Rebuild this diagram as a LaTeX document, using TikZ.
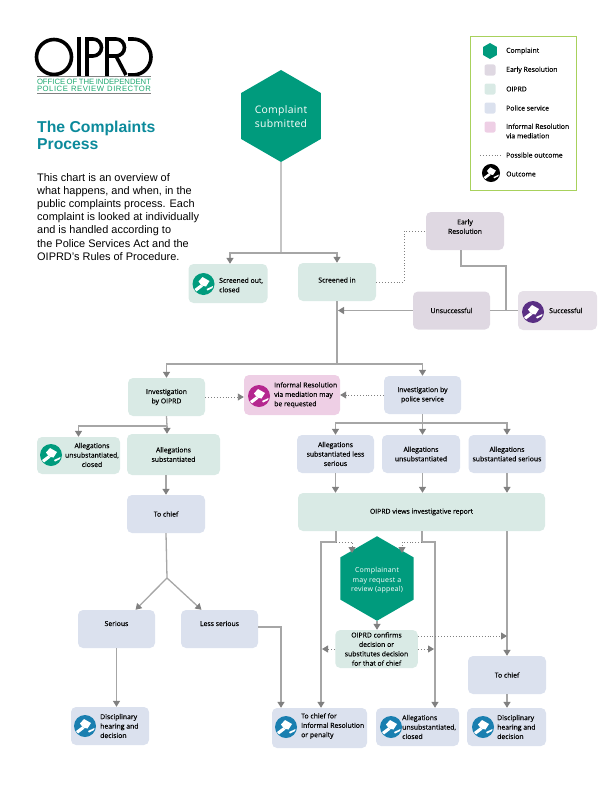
\documentclass[tikz,border=0pt]{standalone}
\usepackage{fontspec}
\setmainfont{Liberation Sans}
\newfontfamily\boxfont[FakeBold=0.25]{Open Sans}
\newfontfamily\hexfont[LetterSpace=3]{Open Sans}
\newfontfamily\logofont[LetterSpace=7]{Liberation Sans}
\usetikzlibrary{arrows.meta,shapes.geometric}
\definecolor{hexgreen}{HTML}{009B7D}
\definecolor{logogreen}{HTML}{1FA971}
\definecolor{titleteal}{HTML}{0B8A9B}
\definecolor{oiprdfill}{HTML}{D9EAE5}
\definecolor{policefill}{HTML}{DBE1EE}
\definecolor{earlyfill}{HTML}{DFD8E2}
\definecolor{succfill}{HTML}{E6E0E8}
\definecolor{medfill}{HTML}{EECFE5}
\definecolor{legendgreen}{HTML}{A8D15C}
\definecolor{flowgray}{HTML}{A6A6A6}
\definecolor{tipgray}{HTML}{808080}
\definecolor{medicon}{HTML}{B5278F}
\definecolor{succicon}{HTML}{5A2F84}
\definecolor{policon}{HTML}{1A7FB0}
\begin{document}
\begin{tikzpicture}[
            x=1pt, y=-1pt,
            >={Triangle[width=7pt,length=6pt,color=tipgray]},
            every node/.style={align=center,font=\boxfont\fontsize{6.85}{9.4}\selectfont},
            rect box/.style={rectangle, rounded corners=5pt, inner sep=1pt, minimum width=77pt, minimum height=38pt},
            oiprd box/.style={rect box, fill=oiprdfill},
            police box/.style={rect box, fill=policefill},
            early box/.style={rect box, fill=earlyfill},
            med box/.style={rect box, fill=medfill},
            high text/.style={text height=6pt, text depth=12pt},
            icon text/.style={anchor=west, align=left, inner sep=0pt},
            hex box/.style={regular polygon, regular polygon sides=6, shape border rotate=30, fill=hexgreen, inner sep=0pt, outer sep=0pt, text=white},
            flow/.style={draw=flowgray, line width=1.3pt},
            possible/.style={draw=tipgray, line width=.9pt, dotted},
            logo stroke/.style={draw=black, line width=3.6pt},
            pics/gavel/.style={code={
                \fill[#1] (0,0) circle[radius=11];
                \fill[white] (-5,-2.5) -- (-1,-7) -- (6,-3) -- (2.5,2.5) -- (-2,1.5) -- cycle;
                \fill[white] (-3,0.5) -- (-0.5,2.5) -- (-7,7.5) -- (-9,5) -- cycle;
                \fill[white] (3,5) -- (9.5,2) -- (9,4) -- (4,6.5) -- cycle;
            }}
    ]
        \useasboundingbox (0,0) rectangle (612,792);

        % Logo
        \draw[logo stroke] (54,57) circle[radius=17.5];
        \draw[logo stroke] (79,37) -- (79,76);
        \draw[logo stroke] (87,76) -- (87,39) -- (93,39) arc[start angle=90,end angle=-90,radius=8.5pt] -- (87,56);
        \draw[logo stroke] (107,76) -- (107,39) -- (116,39) arc[start angle=90,end angle=-90,radius=8.5pt] -- (107,56);
        \draw[logo stroke] (116,56) -- (126,75);
        \draw[logo stroke] (128,39) -- (133,39) arc[start angle=90,end angle=-90,radius=18pt] -- (128,75);
        \draw[draw=tipgray, line width=.7pt] (37,76.5) -- (151,76.5);
        \draw[draw=tipgray, line width=.7pt] (37,93.5) -- (151,93.5);
        \node[font=\fontsize{7.7}{8}\selectfont, text=logogreen, inner sep=0pt] (logo_top) at (94,81.5) {\makebox[114pt][s]{OFFICE OF THE INDEPENDENT}};
        \node[font=\logofont\fontsize{7.7}{8}\selectfont, text=logogreen, inner sep=0pt] (logo_bot) at (94,89) {\makebox[114pt][s]{POLICE REVIEW DIRECTOR}};

        % Title and intro
        \node[anchor=north west, align=left, inner sep=0pt, text=titleteal, font=\bfseries\fontsize{15.75}{17}\selectfont] (title) at (37,121) {The Complaints\\Process};
        \node[anchor=north west, align=left, inner sep=0pt, font=\fontsize{10.95}{13.2}\selectfont] (intro) at (37,173) {This chart is an overview of\\what happens, and when, in the\\public complaints process. Each\\complaint is looked at individually\\and is handled according to\\the Police Services Act and the\\OIPRD's Rules of Procedure.};

        % Legend
        \node[draw=legendgreen, line width=1pt, minimum width=106pt, minimum height=153pt, inner sep=0pt] (legend) at (523.5,113.5) {};
        \node[hex box, minimum size=16pt] (leg_hex) at (490,51) {};
        \node[early box, minimum width=11pt, minimum height=11pt, rounded corners=2pt] (leg_early) at (490,70) {};
        \node[oiprd box, minimum width=11pt, minimum height=11pt, rounded corners=2pt] (leg_oiprd) at (490,89) {};
        \node[police box, minimum width=11pt, minimum height=11pt, rounded corners=2pt] (leg_police) at (490,108) {};
        \node[med box, minimum width=11pt, minimum height=11pt, rounded corners=2pt] (leg_med) at (490,127) {};
        \coordinate (leg_dot1) at (480,155);
        \coordinate (leg_dot2) at (502,155);
        \draw[possible] (leg_dot1) -- (leg_dot2);
        \pic[scale=.82] at (491,173) {gavel=black};
        \node[icon text] (leg_t1) at (506,51) {Complaint};
        \node[icon text] (leg_t2) at (506,70) {Early Resolution};
        \node[icon text] (leg_t3) at (506,89) {OIPRD};
        \node[icon text] (leg_t4) at (506,108) {Police service};
        \node[icon text] (leg_t5) at (506,131) {Informal Resolution\\via mediation};
        \node[icon text] (leg_t6) at (506,155) {Possible outcome};
        \node[icon text] (leg_t7) at (506,174) {Outcome};

        % Complaint and screening
        \node[hex box, minimum size=92pt, font=\hexfont\fontsize{10.4}{14}\selectfont] (hex_sub) at (281,116) {\rule{0pt}{10pt}Complaint\\submitted};
        \node[oiprd box, minimum width=79pt, minimum height=39pt] (box_out) at (228,283.5) {};
        \pic at (203.5,284) {gavel=hexgreen};
        \node[icon text] (txt_out) at (219,285) {Screened out,\\closed};
        \node[oiprd box, minimum width=78pt, text height=6pt, text depth=5pt] (box_in) at (337,282) {Screened in};

        % Early Resolution
        \node[early box, minimum width=78pt] (box_early) at (465,231) {Early\\Resolution\rule[-9pt]{0pt}{1pt}};
        \node[early box] (box_unsucc) at (451.5,310.5) {Unsuccessful};
        \node[rect box, fill=succfill, minimum width=79pt, minimum height=39pt] (box_succ) at (557.5,310.5) {};
        \pic at (533,312) {gavel=succicon};
        \node[icon text] (txt_succ) at (549,310.5) {Successful};

        % Investigations
        \node[oiprd box] (box_invo) at (166.5,397) {Investigation\\by OIPRD};
        \node[med box, minimum width=96pt, minimum height=40pt] (box_med) at (292,395) {};
        \pic at (259,396) {gavel=medicon};
        \node[icon text] (txt_med) at (274,395) {Informal Resolution\\via mediation may\\be requested};
        \node[police box] (box_invp) at (422.5,395) {Investigation by\\police service};

        % OIPRD side
        \node[oiprd box, minimum width=83pt, minimum height=37pt] (box_unsubl) at (78.5,455.5) {};
        \pic at (51,455) {gavel=hexgreen};
        \node[inner sep=0pt] (txt_unsubl) at (92,455) {Allegations\\unsubstantiated,\\closed};
        \node[oiprd box, minimum width=93pt, minimum height=41pt] (box_subl) at (173.5,454.5) {Allegations\\substantiated};
        \node[police box, minimum width=78pt] (box_chiefl) at (166,514) {To chief};
        \node[police box, high text] (box_serious) at (116.5,629) {Serious};
        \node[police box, high text] (box_lesser) at (219.5,629) {Less serious};
        \node[police box, minimum width=78pt] (box_discl) at (110,726) {};
        \pic at (85,726) {gavel=policon};
        \node[icon text] (txt_discl) at (100,726) {Disciplinary\\hearing and\\decision};

        % Police side
        \node[police box] (box_less) at (335.5,454) {Allegations\\substantiated less\\serious};
        \node[police box, minimum width=78pt] (box_unsub) at (421,454) {Allegations\\unsubstantiated};
        \node[police box] (box_ser) at (507,454) {Allegations\\substantiated serious};
        \node[oiprd box, minimum width=247pt] (box_views) at (421.5,512) {OIPRD views investigative report};
        \node[hex box, minimum size=83pt, font=\hexfont\fontsize{7}{9.6}\selectfont] (hex_rev) at (377,578.5) {\rule{0pt}{9pt}Complainant\\may request a\\review (appeal)};
        \node[oiprd box, minimum width=82.5pt] (box_conf) at (376.5,649) {OIPRD confirms\\decision or\\substitutes decision\\for that of chief};
        \node[police box, minimum width=78pt] (box_chiefr) at (507,675) {To chief};
        \node[police box, minimum width=79pt] (box_discr) at (506.5,727) {};
        \pic at (483,727) {gavel=policon};
        \node[icon text] (txt_discr) at (497,727) {Disciplinary\\hearing and\\decision};
        \node[police box, minimum width=83pt] (box_closed) at (417.5,727) {};
        \pic at (391,727) {gavel=policon};
        \node[icon text] (txt_closed) at (402,727) {Allegations\\unsubstantiated,\\closed};
        \node[police box, minimum width=95pt, minimum height=40pt] (box_pen) at (319.5,728) {};
        \pic at (286,727) {gavel=policon};
        \node[icon text] (txt_pen) at (301,726) {To chief for\\Informal Resolution\\or penalty};

        % Junctions
        \coordinate (j_sub) at (281,253);
        \coordinate (j_dot) at (404,231);
        \coordinate (j_early) at (506,266);
        \coordinate (j_succ) at (506,310.5);
        \coordinate (j_back) at (338,310.5);
        \coordinate (j_inv) at (337,364);
        \coordinate (j_all) at (167,426);
        \coordinate (j_split) at (167,578);
        \coordinate (j_pol) at (422.5,423);
        \coordinate (j_left) at (336,542);
        \coordinate (j_right) at (422,542);
        \coordinate (j_revl) at (352,553);
        \coordinate (j_revr) at (402,553);
        \coordinate (j_conf) at (507,636);
        \coordinate (j_confl) at (322,649);
        \coordinate (j_confr) at (434,649);

        % Arrows
        \draw[flow] (hex_sub.south) -- (j_sub);
        \draw[flow,->] (j_sub) -| ([xshift=2pt]box_out.north);
        \draw[flow,->] (j_sub) -| (box_in.north);
        \draw[possible] (box_in.east) -| (j_dot) -- (box_early.west);
        \draw[flow] ([xshift=-4pt]box_early.south) |- (j_early) -- (j_succ);
        \draw[flow] (box_unsucc.east) -- (box_succ.west);
        \draw[flow,->] (box_unsucc.west) -- (j_back);
        \draw[flow] (box_in.south) -- (j_inv);
        \draw[flow,->] (j_inv) -| (box_invo.north);
        \draw[flow,->] (j_inv) -| (box_invp.north);

        \draw[possible,->] (box_invo.east) -- (box_invo.east -| box_med.west);
        \draw[possible,->] (box_invp.west) -- (box_invp.west -| box_med.east);

        \draw[flow] (box_invo.south) -- (j_all);
        \draw[flow,->] (j_all) -| (box_unsubl.north);
        \draw[flow,->] (j_all) -- (j_all |- box_subl.north);
        \draw[flow,->] (box_chiefl.north |- box_subl.south) -- (box_chiefl.north);
        \draw[flow] (box_chiefl.south) -- (j_split);
        \draw[flow,->] (j_split) -- ([xshift=19pt]box_serious.north);
        \draw[flow,->] (j_split) -- ([xshift=-18pt]box_lesser.north);
        \draw[flow,->] (box_serious.south) -- (box_serious.south |- box_discl.north);
        \draw[flow,->] ([yshift=2pt]box_lesser.east) -| ([xshift=-38.5pt]box_pen.north);

        \draw[flow] (box_invp.south) -- (j_pol);
        \draw[flow,->] (j_pol) -| (box_less.north);
        \draw[flow,->] (j_pol) -- (j_pol |- box_unsub.north);
        \draw[flow,->] (j_pol) -| (box_ser.north);
        \draw[flow,->] (box_less.south) -- (box_less.south |- box_views.north);
        \draw[flow,->] (j_pol |- box_unsub.south) -- (j_pol |- box_views.north);
        \draw[flow,->] (box_ser.south) -- (box_ser.south |- box_views.north);

        \draw[flow] (j_left |- box_views.south) -- (j_left);
        \draw[flow,->] (j_left) -| ([xshift=1.5pt]box_pen.north);
        \draw[possible,->] (j_left) -| (j_revl);
        \draw[flow] (j_right |- box_views.south) -- (j_right);
        \draw[flow,->] (j_right) -| ([xshift=17.5pt]box_closed.north);
        \draw[possible,->] (j_right) -| (j_revr);
        \draw[flow,->] (box_ser.south |- box_views.south) -- (box_chiefr.north);

        \draw[flow,->] (hex_rev.south) -- (hex_rev.south |- box_conf.north);
        \draw[possible,->] (box_conf.east |- j_conf) -- (j_conf);
        \draw[possible,->] (box_conf.west |- j_confl) -- (j_confl);
        \draw[possible,->] (box_conf.east |- j_confr) -- (j_confr);
        \draw[flow,->] (box_chiefr.south) -- (box_chiefr.south |- box_discr.north);
\end{tikzpicture}
\end{document}
